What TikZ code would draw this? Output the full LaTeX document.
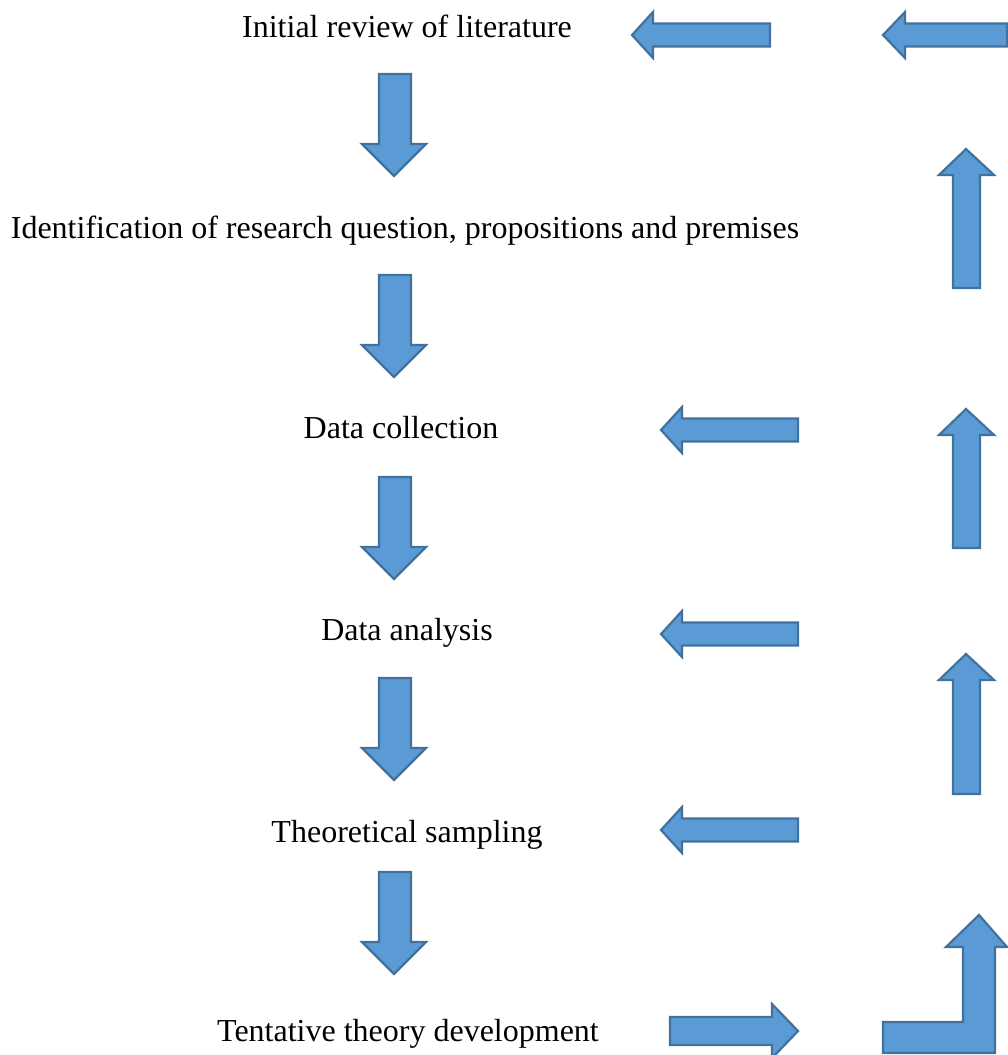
\documentclass[tikz,border=0pt]{standalone}
\usepackage{fontspec}
\setmainfont{Liberation Serif}
\definecolor{arrfill}{HTML}{5B9BD5}
\definecolor{arrline}{HTML}{41719C}
\begin{document}
\begin{tikzpicture}[x=1pt,y=-1pt,
  blk/.style={fill=arrfill,draw=arrline,line width=2.2pt,line join=miter},
  lbl/.style={font=\fontsize{32}{38}\selectfont,anchor=base,inner sep=0pt}]
\useasboundingbox (0,0) rectangle (1008,1055);
\newcommand{\dnarr}[1]{\draw[blk] (379,#1) -- (411,#1) -- (411,{#1+70}) -- (426,{#1+70}) -- (394,{#1+102}) -- (362,{#1+70}) -- (379,{#1+70}) -- cycle;}
\newcommand{\lfarr}[4]{\draw[blk] (#1,#4) -- (#2,{#4-23}) -- (#2,{#4-11.5}) -- (#3,{#4-11.5}) -- (#3,{#4+11.5}) -- (#2,{#4+11.5}) -- (#2,{#4+23}) -- cycle;}
\newcommand{\uparr}[2]{\draw[blk] (966,#1) -- (994,{#1+26}) -- (980,{#1+26}) -- (980,#2) -- (953,#2) -- (953,{#1+26}) -- (939,{#1+26}) -- cycle;}
% text nodes
\node[lbl] (t1) at (407,37) {Initial review of literature};
\node[lbl] (t2) at (405,238) {Identification of research question, propositions and premises};
\node[lbl] (t3) at (401,438) {Data collection};
\node[lbl] (t4) at (407,640) {Data analysis};
\node[lbl] (t5) at (407,842) {Theoretical sampling};
\node[lbl] (t6) at (408,1041) {Tentative theory development};
% down arrows
\dnarr{74}
\dnarr{275}
\dnarr{477}
\dnarr{678}
\dnarr{872}
% left arrows
\lfarr{632}{653}{770}{35}
\lfarr{883}{905}{1007}{35}
\lfarr{661}{682}{798}{430}
\lfarr{661}{682}{798}{634}
\lfarr{661}{682}{798}{830}
% up arrows
\uparr{149}{288}
\uparr{409}{548}
\uparr{654}{794}
% right arrow
\draw[blk] (670,1017) -- (772,1017) -- (772,1004) -- (798,1031) -- (772,1058) -- (772,1045) -- (670,1045) -- cycle;
% bent arrow
\draw[blk] (883,1053) -- (995,1053) -- (995,947) -- (1007,947) -- (979,915) -- (946,947) -- (963,947) -- (963,1022) -- (883,1022) -- cycle;
\end{tikzpicture}
\end{document}
